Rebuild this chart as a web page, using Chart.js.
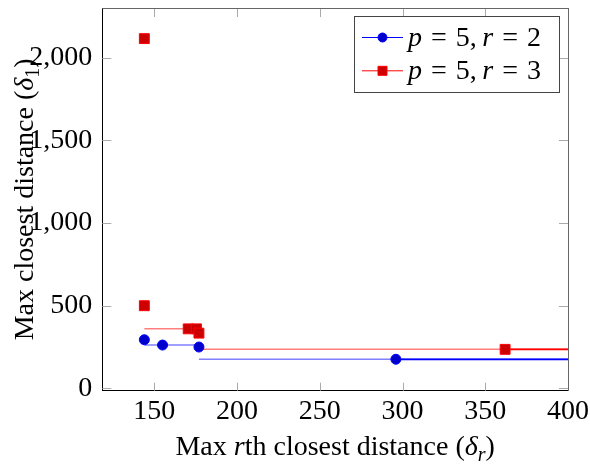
<!DOCTYPE html>
<html>
<head>
<meta charset="utf-8">
<script src="https://cdn.jsdelivr.net/npm/chart.js@4"></script>
<style>
html, body { margin: 0; padding: 0; background: #fff; }
#wrap { width: 590px; height: 469px; }
</style>
</head>
<body>
<div id="wrap"><canvas id="paretoChart"></canvas></div>
<script>
//////// values ////////
const blueX = [144, 155, 177, 296]
const blueY = [294, 262, 250, 176]
const redX = [144, 144, 170.5, 175.5, 177, 362]
const redY = [2115, 500, 360, 360, 334, 236]

// faded frontier segments: [xStart, xEnd] and the level they sit at
const blueStepX = [[144, 177], [177, 400]]
const blueStepY = [262, 176]
const redStepX = [[144, 170.5], [177, 400]]
const redStepY = [360, 236]

// solid tail from the last point out to the edge
const blueTailX = [296, 400]
const redTailX = [362, 400]

const xTicks = [150, 200, 250, 300, 350, 400]
const yTicks = [0, 500, 1000, 1500, 2000]
const legendLabels = ["p = 5, r = 2", "p = 5, r = 3"]
const xTitle = ["Max ", "r", "th closest distance (", "δ", "r", ")"]
const yTitle = ["Max closest distance (", "δ", "1", ")"]

const SERIF = "'Liberation Serif', 'DejaVu Serif', serif"
const FS = 28

const toPts = (xs, ys) => xs.map((x, i) => ({x: x, y: ys[i]}))
const stepPts = (pairs, levels) => {
    let pts = []
    pairs.forEach((p, i) => {
        pts.push({x: p[0], y: levels[i]}, {x: p[1], y: levels[i]}, {x: p[1], y: null})
    })
    return pts
}
const tailPts = (xs, y) => xs.map(x => ({x: x, y: y}))

const BLUE = "#0000ff", BLUE_FILL = "#0000cc"
const RED = "#ff0000", RED_FILL = "#cc0000"

//////// math-ish text: italic letters, TeX spacing around "=" and after "," ////////
function mathPieces(text) {
    let out = []
    for (const ch of text.replace(/\s/g, "")) {
        if (/[a-z]/.test(ch)) out.push([ch, "italic", 0, 0])
        else if (ch === "=") out.push([ch, "normal", 0.32, 0.32])
        else if (ch === ",") out.push([ch, "normal", 0, 0.2])
        else out.push([ch, "normal", 0, 0])
    }
    return out
}
function drawMath(ctx, text, x, y) {
    let cx = x
    mathPieces(text).forEach(p => {
        ctx.font = p[1] + " " + FS + "px " + SERIF
        cx += p[2] * FS
        ctx.fillText(p[0], cx, y)
        cx += ctx.measureText(p[0]).width + p[3] * FS
    })
}

// title pieces: [text, italic?, subscript?]
function titleParts(parts, subIdx, italIdx) {
    return parts.map((t, i) => ({t: t, ital: italIdx.includes(i), sub: i === subIdx}))
}
function partFont(p) {
    return (p.ital ? "italic " : "") + (p.sub ? Math.round(FS * 0.7) : FS) + "px " + SERIF
}
function drawParts(ctx, parts, cx, baseY) {
    let total = 0
    parts.forEach(p => { ctx.font = partFont(p); total += ctx.measureText(p.t).width })
    let x = cx - total / 2
    parts.forEach(p => {
        ctx.font = partFont(p)
        ctx.fillText(p.t, x, baseY + (p.sub ? 6 : 0))
        x += ctx.measureText(p.t).width
    })
}

const framePlugin = {
    id: "frame",
    beforeDatasetsDraw(chart) {
        const ctx = chart.ctx, a = chart.chartArea
        const xs = chart.scales.x, ys = chart.scales.y
        ctx.save()
        ctx.strokeStyle = "#aaaaaa"
        ctx.lineWidth = 1
        ctx.beginPath()
        xTicks.forEach(v => {
            const px = Math.round(xs.getPixelForValue(v)) + 0.5
            ctx.moveTo(px, a.bottom); ctx.lineTo(px, a.bottom - 8)
            ctx.moveTo(px, a.top); ctx.lineTo(px, a.top + 9)
        })
        yTicks.forEach(v => {
            const py = Math.round(ys.getPixelForValue(v)) + 0.5
            ctx.moveTo(a.left, py); ctx.lineTo(a.left + 9, py)
            ctx.moveTo(a.right, py); ctx.lineTo(a.right - 9, py)
        })
        ctx.stroke()
        // top and right edges of the box
        ctx.strokeStyle = "#666666"
        ctx.beginPath()
        ctx.moveTo(a.left, Math.round(a.top) + 0.5); ctx.lineTo(a.right, Math.round(a.top) + 0.5)
        ctx.moveTo(Math.round(a.right) + 0.5, a.top); ctx.lineTo(Math.round(a.right) + 0.5, a.bottom)
        ctx.stroke()
        ctx.restore()
    },
    afterDraw(chart) {
        const ctx = chart.ctx, a = chart.chartArea
        ctx.save()
        ctx.fillStyle = "#000"
        ctx.textBaseline = "alphabetic"
        // x title
        drawParts(ctx, titleParts(xTitle, 4, [1, 3, 4]), (a.left + a.right) / 2, 455)
        // y title, rotated
        ctx.translate(33, (a.top + a.bottom) / 2)
        ctx.rotate(-Math.PI / 2)
        drawParts(ctx, titleParts(yTitle, 2, [1]), 0, 0)
        ctx.restore()

        // legend box in the upper right corner
        ctx.save()
        const bx = a.right - 214, by = a.top + 8, bw = 205, bh = 76
        ctx.fillStyle = "#fff"
        ctx.fillRect(bx, by, bw, bh)
        ctx.strokeStyle = "#444"
        ctx.lineWidth = 1
        ctx.strokeRect(Math.round(bx) + 0.5, Math.round(by) + 0.5, bw, bh)
        const rows = [
            {line: BLUE, fill: BLUE_FILL, shape: "circle"},
            {line: RED, fill: RED_FILL, shape: "rect"}
        ]
        rows.forEach((r, i) => {
            const ry = by + 21.5 + i * 33.3
            ctx.strokeStyle = r.line
            ctx.lineWidth = 1
            ctx.beginPath()
            ctx.moveTo(bx + 8, ry); ctx.lineTo(bx + 49, ry)
            ctx.stroke()
            ctx.fillStyle = r.fill
            ctx.beginPath()
            if (r.shape === "circle") ctx.arc(bx + 28.5, ry, 4.5, 0, Math.PI * 2)
            else ctx.rect(bx + 24, ry - 4.5, 9, 9)
            ctx.fill()
            ctx.stroke()
            ctx.fillStyle = "#000"
            drawMath(ctx, legendLabels[i], bx + 54, ry + 8)
        })
        ctx.restore()
    }
}

let ctx = document.getElementById("paretoChart").getContext("2d")
const paretoChart = new Chart(ctx, {
    type: "line",
    data: {
        datasets: [{
            label: legendLabels[0],
            data: toPts(blueX, blueY),
            showLine: false,
            pointStyle: "circle",
            pointRadius: 5,
            pointBackgroundColor: BLUE_FILL,
            pointBorderColor: BLUE,
            pointBorderWidth: 1,
            order: 1
        }, {
            label: legendLabels[1],
            data: toPts(redX, redY),
            showLine: false,
            pointStyle: "rect",
            pointRadius: 7,
            pointBackgroundColor: RED_FILL,
            pointBorderColor: RED,
            pointBorderWidth: 1,
            order: 1
        }, {
            data: tailPts(blueTailX, blueY[blueY.length - 1]),
            borderColor: BLUE,
            borderWidth: 1.8,
            pointRadius: 0,
            order: 2
        }, {
            data: tailPts(redTailX, redY[redY.length - 1]),
            borderColor: RED,
            borderWidth: 1.8,
            pointRadius: 0,
            order: 2
        }, {
            data: stepPts(blueStepX, blueStepY),
            borderColor: "rgba(0,0,255,0.5)",
            borderWidth: 1.5,
            pointRadius: 0,
            spanGaps: false,
            order: 3
        }, {
            data: stepPts(redStepX, redStepY),
            borderColor: "rgba(255,0,0,0.5)",
            borderWidth: 1.5,
            pointRadius: 0,
            spanGaps: false,
            order: 3
        }]
    },
    options: {
        responsive: true,
        maintainAspectRatio: false,
        animation: false,
        layout: {padding: {left: 19.3, right: 22, top: 0, bottom: 36.7}},
        plugins: {
            legend: {display: false},
            tooltip: {enabled: false}
        },
        scales: {
            x: {
                type: "linear",
                min: 118.6,
                max: 400,
                afterBuildTicks: scale => { scale.ticks = xTicks.map(v => ({value: v})) },
                afterFit: scale => { scale.paddingLeft = 0; scale.paddingRight = 0 },
                grid: {display: false, drawTicks: false},
                border: {display: true, color: "#000", width: 1},
                ticks: {
                    autoSkip: false,
                    maxRotation: 0,
                    padding: 4,
                    color: "#000",
                    font: {family: SERIF, size: FS}
                }
            },
            y: {
                type: "linear",
                min: -14,
                max: 2300,
                afterBuildTicks: scale => { scale.ticks = yTicks.map(v => ({value: v})) },
                afterFit: scale => { scale.paddingTop = 0; scale.paddingBottom = 0 },
                grid: {display: false, drawTicks: false},
                border: {display: true, color: "#000", width: 1},
                ticks: {
                    padding: 10,
                    color: "#000",
                    font: {family: SERIF, size: FS},
                    callback: v => v.toLocaleString("en-US")
                }
            }
        }
    },
    plugins: [framePlugin]
})
</script>
</body>
</html>
